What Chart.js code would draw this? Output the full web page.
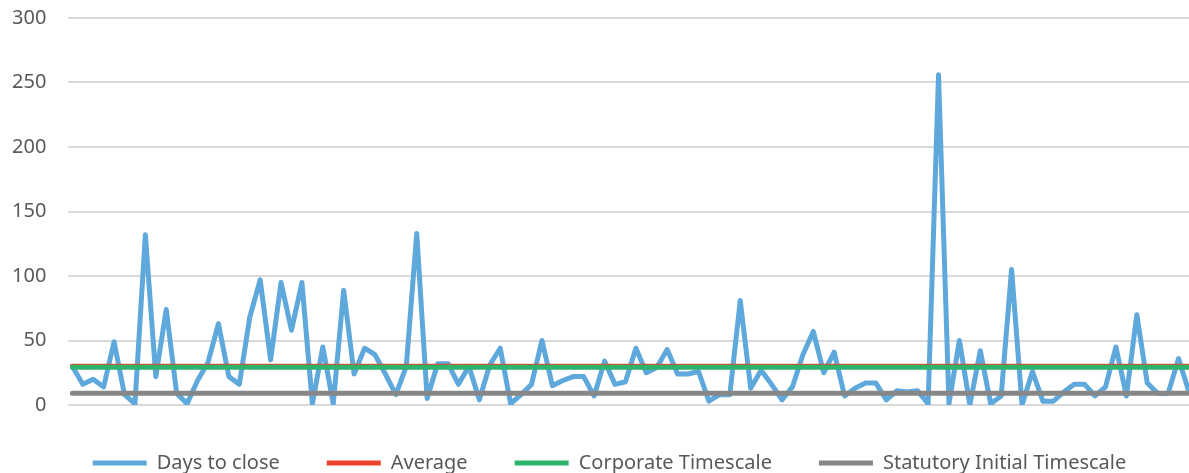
<!DOCTYPE html>
<html lang="en">
    <head>
        <meta charset="UTF-8" />
        <title>Days to close</title>
        <script src="https://cdn.jsdelivr.net/npm/chart.js"></script>
        <style>
            html, body { margin: 0; padding: 0; background: #ffffff; }
            #wrap { width: 1189px; height: 473px; position: relative; }
        </style>
    </head>
    <body>
        <div id="wrap"><canvas id="myChart"></canvas></div>

        <script>
            // values, one per case
            const daysToClose = [
                30, 16, 20, 14, 49, 8, 1, 132, 22, 74,
                9, 1, 19, 33, 63, 22, 16, 68, 97, 35,
                95, 58, 95, 1, 45, 1, 89, 24, 44, 39,
                24, 8, 30, 133, 5, 32, 32, 16, 30, 4,
                31, 44, 1, 8, 16, 50, 15, 19, 22, 22,
                7, 34, 16, 18, 44, 25, 29, 43, 24, 24,
                26, 3, 8, 8, 81, 13, 27, 16, 4, 14,
                39, 57, 25, 41, 7, 13, 17, 17, 4, 11,
                10, 11, 1, 256, 1, 50, 0, 42, 1, 7,
                105, 0, 26, 3, 3, 10, 16, 16, 7, 14,
                45, 7, 70, 17, 9, 9, 36, 10,
            ];
            const averageDays = 30.1;
            const corporateTimescale = 29.2;
            const statutoryTimescale = 9.2;
            const yTicks = [0, 50, 100, 150, 200, 250, 300];

            // no category labels are shown; cases are just numbered
            const cases = daysToClose.map((_, i) => String(i + 1));
            const firstCase = cases[0];
            const lastCase = cases[cases.length - 1];

            function flatLine(value) {
                return [
                    { x: firstCase, y: value },
                    { x: lastCase, y: value },
                ];
            }

            const FONT = "'Noto Sans', 'Open Sans', sans-serif";
            const TEXT = "#595959";

            const lineStyle = (color) => ({
                borderColor: color,
                backgroundColor: color,
                borderWidth: 5,
                borderCapStyle: "round",
                borderJoinStyle: "round",
                pointRadius: 0,
                pointHoverRadius: 0,
                tension: 0,
            });

            const data = {
                labels: cases,
                datasets: [
                    Object.assign({ label: "Days to close", data: daysToClose, order: 4 }, lineStyle("#5fa8dc")),
                    Object.assign({ label: "Average", data: flatLine(averageDays), order: 3 }, lineStyle("#ea432c")),
                    Object.assign({ label: "Corporate Timescale", data: flatLine(corporateTimescale), order: 2 }, lineStyle("#2eb36d")),
                    Object.assign({ label: "Statutory Initial Timescale", data: flatLine(statutoryTimescale), order: 1 }, lineStyle("#878787")),
                ],
            };

            // legend: keep its box short and nudge it to sit like the original
            const legendTweak = {
                id: "legendTweak",
                beforeInit(chart) {
                    const fit = chart.legend.fit;
                    chart.legend.fit = function () {
                        fit.bind(chart.legend)();
                        this.height = 68;
                    };
                },
                afterLayout(chart) {
                    const lg = chart.legend;
                    lg.top += 1;
                    lg.bottom += 1;
                    lg.left += 20;
                    lg.right += 20;
                },
            };

            const config = {
                type: "line",
                data: data,
                plugins: [legendTweak],
                options: {
                    responsive: true,
                    maintainAspectRatio: false,
                    animation: false,
                    layout: { padding: { left: -10, right: 0, top: 18, bottom: 0 } },
                    plugins: {
                        title: { display: false },
                        tooltip: { enabled: false },
                        legend: {
                            position: "bottom",
                            labels: {
                                usePointStyle: true,
                                pointStyle: "line",
                                pointStyleWidth: 54,
                                padding: 47,
                                color: TEXT,
                                font: { family: FONT, size: 20 },
                                sort: (a, b) => a.datasetIndex - b.datasetIndex,
                            },
                        },
                    },
                    scales: {
                        x: {
                            display: false,
                            offset: false,
                        },
                        y: {
                            min: 0,
                            max: 300,
                            afterBuildTicks(scale) {
                                scale.ticks = yTicks.map((v) => ({ value: v }));
                            },
                            afterFit(scale) {
                                // tick padding should only push labels sideways
                                scale.paddingTop = 0;
                                scale.paddingBottom = 0;
                            },
                            border: { display: false },
                            grid: {
                                color: "#d9d9d9",
                                lineWidth: 2,
                                tickLength: 4,
                                tickColor: "#d9d9d9",
                            },
                            ticks: {
                                padding: 22,
                                color: TEXT,
                                font: { family: FONT, size: 20 },
                            },
                        },
                    },
                },
            };

            document.addEventListener("DOMContentLoaded", function () {
                const ctx = document.getElementById("myChart").getContext("2d");
                new Chart(ctx, config);
            });
        </script>
    </body>
</html>
